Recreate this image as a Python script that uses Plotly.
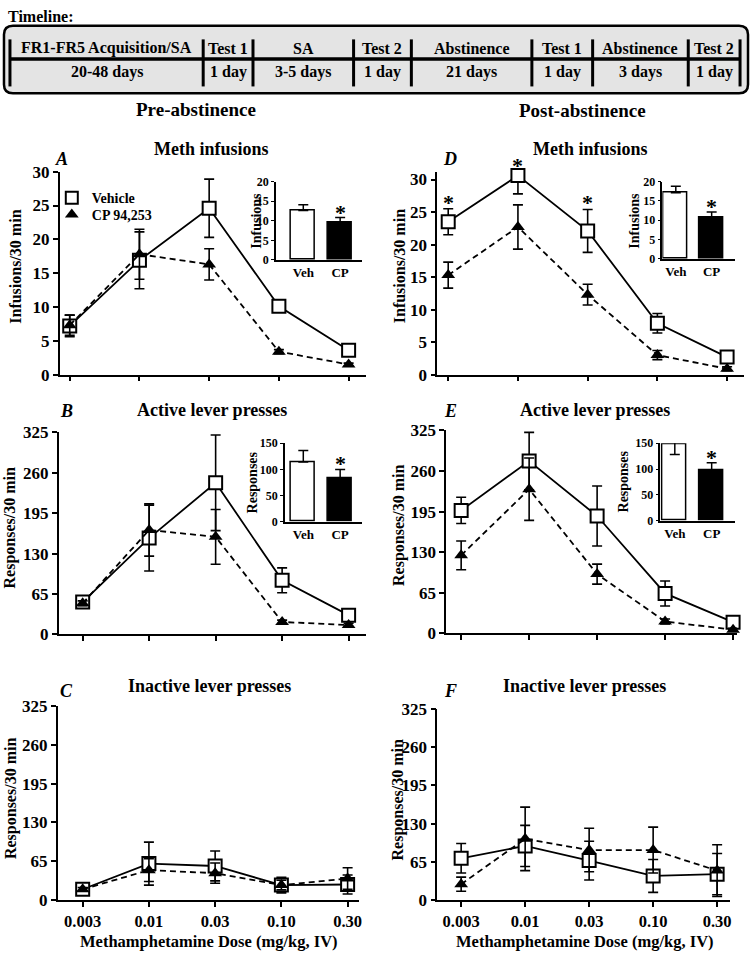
import plotly.graph_objects as go

W, H = 755, 961
FONT = "Liberation Serif"

# ---------------- data ----------------
doses = ["0.003", "0.01", "0.03", "0.10", "0.30"]
dose_idx = [0, 1, 2, 3, 4]
infusion_ticks = [0, 5, 10, 15, 20, 25, 30]
response_ticks = [0, 65, 130, 195, 260, 325]
inset_groups = ["Veh", "CP"]
inset_infusion_ticks = [0, 5, 10, 15, 20]
inset_response_ticks = [0, 50, 100, 150]

timeline_phases = ["FR1-FR5 Acquisition/SA", "Test 1", "SA", "Test 2",
                   "Abstinence", "Test 1", "Abstinence", "Test 2"]
timeline_durations = ["20-48 days", "1 day", "3-5 days", "1 day",
                      "21 days", "1 day", "3 days", "1 day"]

# A  Pre-abstinence, meth infusions
A_veh = [7.2, 16.9, 24.6, 10.1, 3.6]
A_veh_sem = [1.6, 4.2, 4.3, 0.8, 0.5]
A_cp = [7.3, 17.8, 16.3, 3.4, 1.5]
A_cp_sem = [1.5, 3.7, 2.3, 0.3, 0.2]
# B  Pre-abstinence, active lever presses
B_veh = [52, 155, 244, 87, 31]
B_veh_sem = [5, 53, 77, 20, 8]
B_cp = [50, 168, 157, 20, 15]
B_cp_sem = [4, 42, 44, 3, 3]
# C  Pre-abstinence, inactive lever presses
C_veh = [18, 61, 57, 25, 26]
C_veh_sem = [4, 36, 25, 13, 16]
C_cp = [18, 50, 45, 25, 36]
C_cp_sem = [3, 19, 17, 8, 18]
# D  Post-abstinence, meth infusions
D_veh = [23.5, 30.6, 22.1, 7.9, 2.7]
D_veh_sem = [2.0, 2.8, 3.3, 1.5, 0.4]
D_cp = [15.3, 22.7, 12.3, 3.0, 0.9]
D_cp_sem = [2.0, 3.4, 1.6, 0.7, 0.3]
D_sig = [0, 1, 2]
# E  Post-abstinence, active lever presses
E_veh = [197, 276, 188, 64, 18]
E_veh_sem = [21, 46, 48, 20, 4]
E_cp = [125, 231, 95, 19, 6]
E_cp_sem = [23, 50, 16, 4, 2]
# F  Post-abstinence, inactive lever presses
F_veh = [71, 92, 67, 41, 44]
F_veh_sem = [25, 35, 33, 28, 35]
F_cp = [27, 104, 85, 85, 50]
F_cp_sem = [12, 54, 37, 39, 44]

# insets (collapsed across doses)
A_inset = [12.6, 9.5]
A_inset_sem = [1.5, 1.3]
B_inset = [114, 84]
B_inset_sem = [22, 16]
D_inset = [17.1, 10.6]
D_inset_sem = [1.7, 1.5]
E_inset = [149, 97]
E_inset_sem = [21, 15]

# ---------------- helpers ----------------
def px2x(p):
    return p / W


def px2y(p):
    return 1 - p / H


fig = go.Figure()
layout_axes = {}


def ax_keys(i):
    return ("x" if i == 1 else f"x{i}", "y" if i == 1 else f"y{i}",
            "xaxis" if i == 1 else f"xaxis{i}", "yaxis" if i == 1 else f"yaxis{i}")


BOLD = dict(family=FONT, color="black", weight="bold")


def paper_text(text, x, y, size, angle=0, xanchor="center", italic=False):
    f = dict(size=size, **BOLD)
    if italic:
        f["style"] = "italic"
    return dict(x=px2x(x), y=px2y(y), xref="paper", yref="paper", text=text,
                showarrow=False, xanchor=xanchor, yanchor="middle", textangle=angle,
                font=f)


VEH_MARKER = dict(symbol="square", size=13, color="white", line=dict(color="black", width=2))
CP_MARKER = dict(symbol="triangle-up", size=12, color="black")

panels = [
    # name, L, R, t0, t4, top, bot, ymax, ticks, veh, vsem, cp, csem, show x labels
    ("A", 60, 367, 70, 350, 166, 373, 30, infusion_ticks, A_veh, A_veh_sem, A_cp, A_cp_sem, False),
    ("B", 59, 367, 83, 350, 432, 638, 325, response_ticks, B_veh, B_veh_sem, B_cp, B_cp_sem, False),
    ("C", 58, 360, 83, 349, 711, 909, 325, response_ticks, C_veh, C_veh_sem, C_cp, C_cp_sem, True),
    ("D", 439, 747, 450, 730, 166, 373, 31.2, infusion_ticks, D_veh, D_veh_sem, D_cp, D_cp_sem, False),
    ("E", 448, 740, 463, 736, 430, 637, 325, response_ticks, E_veh, E_veh_sem, E_cp, E_cp_sem, False),
    ("F", 439, 733, 463, 720, 714, 909, 325, response_ticks, F_veh, F_veh_sem, F_cp, F_cp_sem, True),
]

for i, (name, L, R, t0, t4, top, bot, ymax, yt, veh, vsem, cp, csem, showx) in enumerate(panels, start=1):
    xk, yk, xak, yak = ax_keys(i)
    ppu = (t4 - t0) / 4.0
    xr = [-(t0 - L) / ppu, 4 + (R - t4) / ppu]
    fig.add_trace(go.Scatter(
        x=dose_idx, y=veh, mode="lines+markers", xaxis=xk, yaxis=yk, showlegend=False,
        line=dict(color="black", width=1.8), marker=VEH_MARKER,
        error_y=dict(type="data", array=vsem, color="black", thickness=1.6, width=5),
        cliponaxis=False))
    fig.add_trace(go.Scatter(
        x=dose_idx, y=cp, mode="lines+markers", xaxis=xk, yaxis=yk, showlegend=False,
        line=dict(color="black", width=1.8, dash="6px,4px"), marker=CP_MARKER,
        error_y=dict(type="data", array=csem, color="black", thickness=1.6, width=5),
        cliponaxis=False))
    layout_axes[xak] = dict(
        domain=[px2x(L), px2x(R)], range=xr, anchor=yk, showline=True, linecolor="black",
        linewidth=1.5, ticks="outside", ticklen=5, tickwidth=1.5, tickcolor="black",
        tickvals=dose_idx, ticktext=doses, showticklabels=showx, showgrid=False,
        zeroline=False, tickfont=dict(size=16.5, **BOLD), fixedrange=True)
    layout_axes[yak] = dict(
        domain=[px2y(bot), px2y(top)], range=[0, ymax], anchor=xk, showline=True,
        linecolor="black", linewidth=1.5, ticks="outside", ticklen=5, tickwidth=1.5,
        tickcolor="black", tickvals=yt, showgrid=False, zeroline=False,
        tickfont=dict(size=17, **BOLD), fixedrange=True)

# legend entries (panel A), one legend per row for exact placement
fig.add_trace(go.Scatter(x=[None], y=[None], mode="markers", name="Vehicle", xaxis="x", yaxis="y",
                         marker=VEH_MARKER, legend="legend"))
fig.add_trace(go.Scatter(x=[None], y=[None], mode="markers", name="CP 94,253", xaxis="x", yaxis="y",
                         marker=CP_MARKER, legend="legend2"))

# insets
insets = [
    # L, R, c0, c1, top, bot, ymax, ticks, vals, sem, sem_minus, title, title_x
    (277, 363, 304.5, 341.5, 176, 256, 20, inset_infusion_ticks, A_inset, A_inset_sem, [0, 0], "Infusions", 258),
    (286, 363, 304.5, 341.5, 443, 523, 150, inset_response_ticks, B_inset, B_inset_sem, [0, 0], "Responses", 253),
    (665, 738, 678.5, 714.5, 176, 255, 20, inset_infusion_ticks, D_inset, D_inset_sem, [0, 0], "Infusions", 637),
    (663, 738, 677.5, 714.5, 443, 522, 150, inset_response_ticks, E_inset, E_inset_sem, [21, 0], "Responses", 626),
]
annotations = []
for j, (L, R, c0, c1, top, bot, ymax, yt, vals, sem, semm, ttl, tx) in enumerate(insets, start=7):
    xk, yk, xak, yak = ax_keys(j)
    ppu = c1 - c0
    xr = [-(c0 - L) / ppu, 1 + (R - c1) / ppu]
    fig.add_trace(go.Bar(
        x=[0, 1], y=vals, xaxis=xk, yaxis=yk, showlegend=False, width=24 / ppu,
        marker=dict(color=["white", "black"], line=dict(color="black", width=1.5)),
        error_y=dict(type="data", array=sem, arrayminus=semm, symmetric=False,
                     color="black", thickness=1.5, width=5)))
    layout_axes[xak] = dict(
        domain=[px2x(L), px2x(R)], range=xr, anchor=yk, showline=True, linecolor="black",
        linewidth=1.5, ticks="", tickvals=[0, 1], ticktext=inset_groups, showgrid=False,
        zeroline=False, tickfont=dict(size=13, **BOLD), fixedrange=True)
    layout_axes[yak] = dict(
        domain=[px2y(bot), px2y(top)], range=[0, ymax], anchor=xk, showline=True,
        linecolor="black", linewidth=1.5, ticks="outside", ticklen=3, tickwidth=1.2,
        tickcolor="black", tickvals=yt, showgrid=False, zeroline=False,
        tickfont=dict(size=12, **BOLD), fixedrange=True)
    # significance star over CP bar
    annotations.append(dict(x=1, y=vals[1] + sem[1], xref=xk, yref=yk, text="*", showarrow=False,
                            xanchor="center", yanchor="bottom", yshift=-9,
                            font=dict(size=22, **BOLD)))
    annotations.append(paper_text(ttl, tx, (top + bot) / 2, 14, angle=-90))

# D significance stars
for k in D_sig:
    yv = min(D_veh[k] + D_veh_sem[k], 31.2)
    annotations.append(dict(x=dose_idx[k], y=yv, xref="x4", yref="y4", text="*", showarrow=False,
                            xanchor="center", yanchor="bottom", yshift=-8,
                            font=dict(size=22, **BOLD)))

# text labels
texts = [
    ("Pre-abstinence", 197, 103, 19),
    ("Post-abstinence", 585, 104, 19),
    ("Meth infusions", 212, 143, 18),
    ("Meth infusions", 593, 143, 18),
    ("Active lever presses", 213, 409, 18),
    ("Active lever presses", 597, 409, 18),
    ("Inactive lever presses", 210, 691, 18),
    ("Inactive lever presses", 587, 691, 18),
    ("Methamphetamine Dose (mg/kg, IV)", 210, 951, 16.5),
    ("Methamphetamine Dose (mg/kg, IV)", 587, 951, 16.5),
]
for t, x, y, s in texts:
    annotations.append(paper_text(t, x, y, s))

letters = [("A", 62, 153), ("B", 67, 410), ("C", 67, 696),
           ("D", 452, 153), ("E", 452, 410), ("F", 452, 696)]
for t, x, y in letters:
    annotations.append(paper_text(t, x, y, 18, italic=True))

ytitles = [("Infusions/30 min", 16, 263), ("Responses/30 min", 10, 529), ("Responses/30 min", 11, 805),
           ("Infusions/30 min", 401, 262), ("Responses/30 min", 400, 527), ("Responses/30 min", 400, 807)]
for t, x, y in ytitles:
    annotations.append(paper_text(t, x, y, 16, angle=-90))

# ---------------- timeline ----------------
shapes = []
bx0, bx1, by0, by1, r = 4, 751, 17, 86, 9


def P(x, y):
    return f"{px2x(x):.5f},{px2y(y):.5f}"


path = (f"M {P(bx0 + r, by0)} L {P(bx1 - r, by0)} Q {P(bx1, by0)} {P(bx1, by0 + r)} "
        f"L {P(bx1, by1 - r)} Q {P(bx1, by1)} {P(bx1 - r, by1)} "
        f"L {P(bx0 + r, by1)} Q {P(bx0, by1)} {P(bx0, by1 - r)} "
        f"L {P(bx0, by0 + r)} Q {P(bx0, by0)} {P(bx0 + r, by0)} Z")
shapes.append(dict(type="path", path=path, xref="paper", yref="paper",
                   fillcolor="#e4e4e4", line=dict(color="black", width=2.5), layer="below"))
dividers = [10, 204, 254, 355, 413, 534, 595, 691, 743]
shapes.append(dict(type="line", xref="paper", yref="paper", x0=px2x(dividers[0]), x1=px2x(dividers[-1]),
                   y0=px2y(51), y1=px2y(51), line=dict(color="black", width=3.5)))
for d in dividers:
    shapes.append(dict(type="line", xref="paper", yref="paper", x0=px2x(d), x1=px2x(d),
                       y0=px2y(31), y1=px2y(79), line=dict(color="black", width=3)))
for k in range(len(timeline_phases)):
    cx = (dividers[k] + dividers[k + 1]) / 2
    annotations.append(paper_text(timeline_phases[k], cx, 40, 16))
    annotations.append(paper_text(timeline_durations[k], cx, 64, 16))
annotations.append(paper_text("Timeline:", 6, 8, 16, xanchor="left"))

LEG = dict(xanchor="left", yanchor="middle", bgcolor="rgba(0,0,0,0)",
           font=dict(size=14, **BOLD), itemsizing="constant", borderwidth=0)
fig.update_layout(
    width=W, height=H, margin=dict(l=0, r=0, t=0, b=0, pad=0),
    paper_bgcolor="white", plot_bgcolor="white",
    font=dict(family=FONT, color="black"),
    showlegend=True,
    legend=dict(x=px2x(52), y=px2y(193), **LEG),
    legend2=dict(x=px2x(52), y=px2y(210), **LEG),
    annotations=annotations, shapes=shapes, bargap=0,
    **layout_axes,
)

fig.write_html("out.html", config={"displayModeBar": False},
               post_script="document.body.style.margin='0px';document.body.style.padding='0px';")
